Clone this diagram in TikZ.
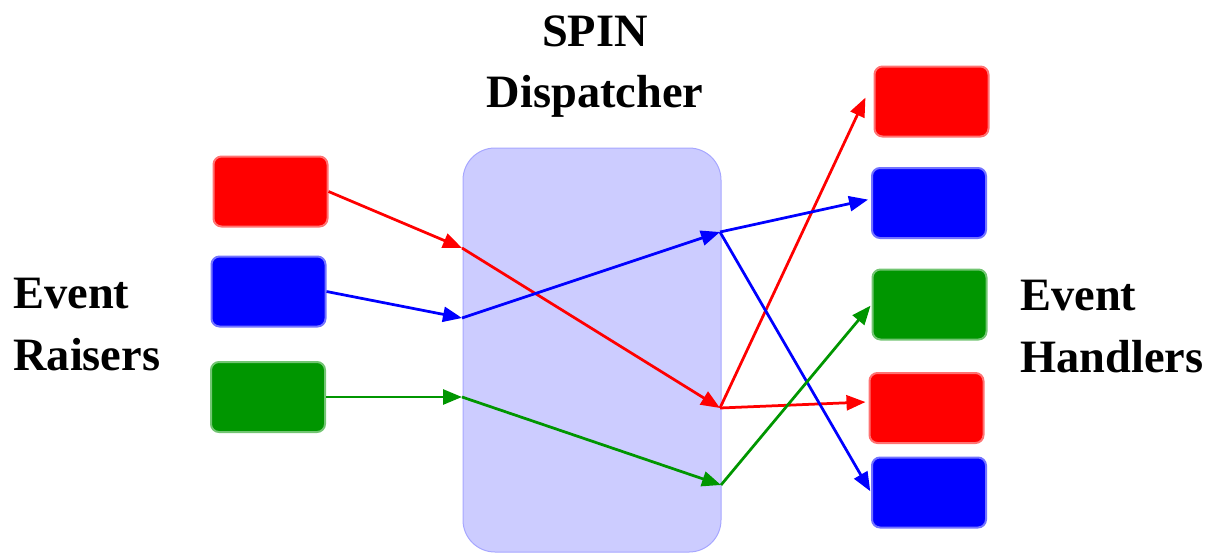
\documentclass[tikz,border=0pt]{standalone}
\usepackage{fontspec}
\setmainfont{Liberation Serif}
\usetikzlibrary{arrows.meta}

\definecolor{dgreen}{RGB}{0,150,0}
\definecolor{lav}{RGB}{204,204,255}

\begin{document}
\begin{tikzpicture}[x=0.2mm,y=-0.2mm]
\path [use as bounding box] (0,0) rectangle (1206,553);
\tikzstyle{box} = [rectangle, rounded corners=1.6mm, minimum width=22.8mm, minimum height=14mm, line width=0.4mm, inner sep=0pt]
\tikzstyle{lbl} = [font=\bfseries\fontsize{26.4}{35.2}\selectfont, inner sep=0pt]
\tikzstyle{arr} = [line width=0.55mm, -{Triangle[length=3.8mm,width=3mm]}]
\node[rectangle, rounded corners=6.4mm, fill=lav, draw=blue!35, line width=0.2mm, minimum width=51.6mm, minimum height=80.8mm] (disp) at (592,350) {};
\node[box, fill=red, draw=red!55] (lr) at (270.5,191.5) {};
\node[box, fill=blue, draw=blue!55] (lb) at (268.5,291.5) {};
\node[box, fill=dgreen, draw=dgreen!55] (lg) at (268,397) {};
\node[box, fill=red, draw=red!55] (rr1) at (931.5,101.5) {};
\node[box, fill=blue, draw=blue!55] (rb1) at (929,203) {};
\node[box, fill=dgreen, draw=dgreen!55] (rg) at (929.5,304.5) {};
\node[box, fill=red, draw=red!55] (rr2) at (926.5,408) {};
\node[box, fill=blue, draw=blue!55] (rb2) at (929,492.5) {};
\node[lbl, align=left, anchor=north west] (raisers) at (13,278) {Event\\Raisers};
\node[lbl, align=left, anchor=north west] (handlers) at (1020,280) {Event\\Handlers};
\node[lbl, align=center, anchor=north] (title) at (595,15) {SPIN\\Dispatcher};
\coordinate (inR) at (462,248);
\coordinate (inB) at (462,318);
\coordinate (inG) at (462,397);
\coordinate (outR) at (720,408);
\coordinate (outB) at (720,232);
\coordinate (outG) at (721,485);
\draw[arr, red] (lr.east) -- (inR);
\draw[arr, red] (inR) -- (outR);
\draw[arr, red, shorten >=3.8mm] (outR) -- (rr1.160);
\draw[arr, red, shorten >=0.6mm] (outR) -- (rr2.174);
\draw[arr, blue] (lb.east) -- (inB);
\draw[arr, blue] (inB) -- (outB);
\draw[arr, blue, shorten >=0.6mm] (outB) -- (rb1.176);
\draw[arr, blue, shorten >=0.3mm] (outB) -- (rb2.west);
\draw[arr, dgreen] (lg.east) -- (inG);
\draw[arr, dgreen] (inG) -- (outG);
\draw[arr, dgreen, shorten >=0.3mm] (outG) -- (rg.west);
\end{tikzpicture}
\end{document}
